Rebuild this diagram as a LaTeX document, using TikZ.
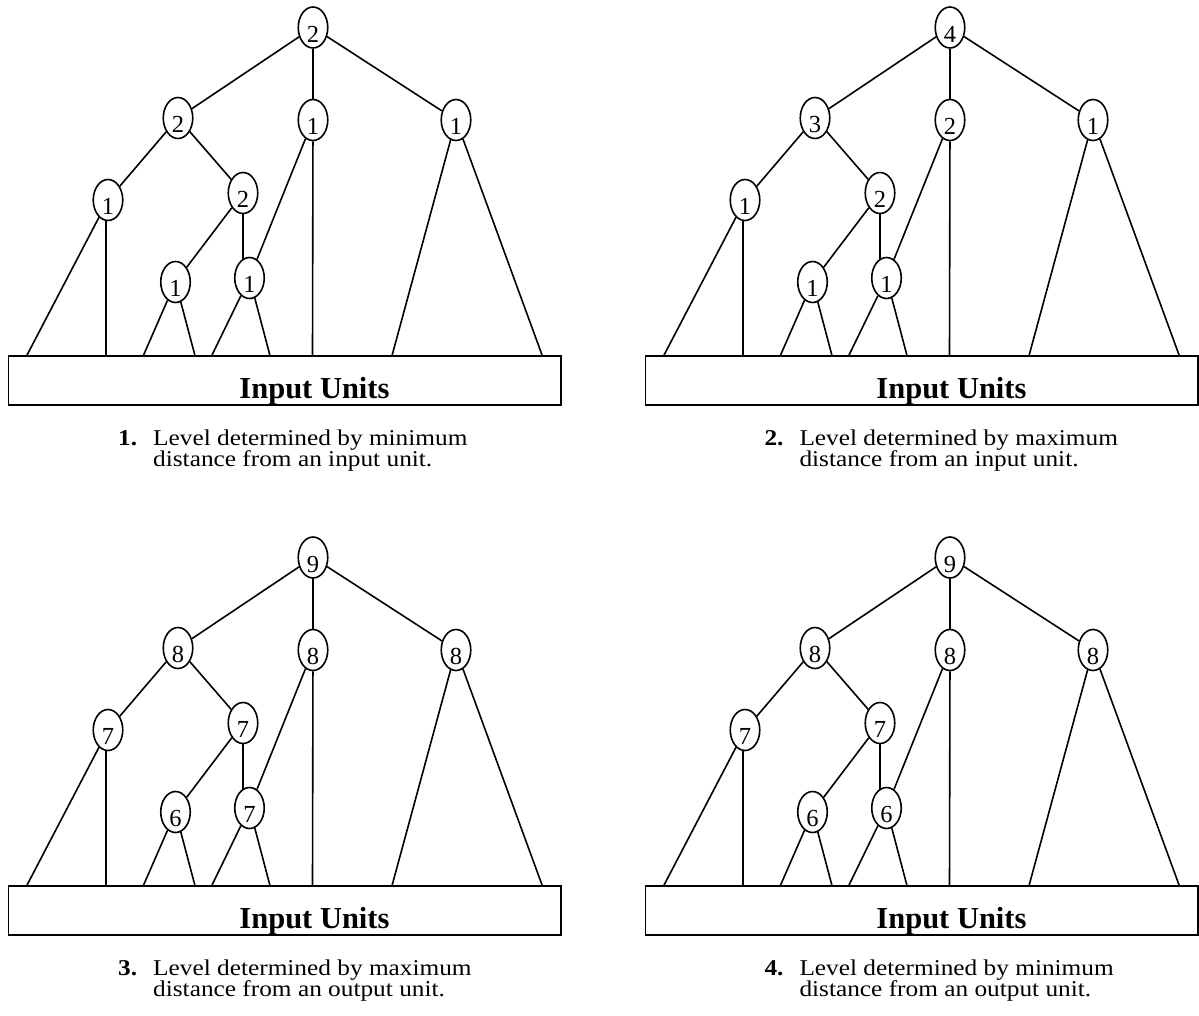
\documentclass[tikz,border=0pt]{standalone}
\usepackage{fontspec}
\setmainfont{Liberation Serif}
\newfontfamily\capfont[FakeStretch=1.12]{Liberation Serif}
\usetikzlibrary{shapes.geometric,backgrounds}
\tikzset{
  unit/.style={ellipse, draw, line width=1.6pt, fill=white, minimum width=29.5pt,
    minimum height=41pt, inner sep=0pt, text height=29pt, text depth=0pt,
    font=\fontsize{24.5}{28}\selectfont},
  edge/.style={line width=1.6pt},
  inbox/.style={draw, line width=1.6pt, minimum width=552.7pt, minimum height=49.3pt, inner sep=0pt},
  boxtext/.style={font=\fontsize{30.5}{34}\selectfont\bfseries, anchor=base, inner sep=0pt},
  capt/.style={font=\capfont\fontsize{22.6}{21.7}\selectfont, anchor=base west, inner sep=0pt},
}
\newcommand\pf{}
\newcommand\levtree[8]{%
  \node[unit] (\pf r) at (313,27.5) {#1};
  \node[unit] (\pf a) at (178,118) {#2};
  \node[unit] (\pf b) at (313,120) {#3};
  \node[unit] (\pf c) at (456,120) {#4};
  \node[unit] (\pf d) at (108,200) {#5};
  \node[unit] (\pf e) at (243,193) {#6};
  \node[unit] (\pf f) at (175.5,282) {#7};
  \node[unit] (\pf g) at (249.5,278) {#8};
  \node[inbox] (\pf box) at (284.65,380.35) {};
  \node[boxtext] (\pf txt) at (314.5,398) {Input Units};
  \coordinate (\pf p1) at (26.7,355.7);
  \coordinate (\pf p2) at (106,355.7);
  \coordinate (\pf p3) at (143.3,355.7);
  \coordinate (\pf p4) at (195,355.7);
  \coordinate (\pf p5) at (211.7,355.7);
  \coordinate (\pf p6) at (270,355.7);
  \coordinate (\pf p7) at (312.5,355.7);
  \coordinate (\pf p8) at (392,355.7);
  \coordinate (\pf p9) at (542.3,355.7);
  \begin{pgfonlayer}{background}
    \draw[edge] (\pf r) -- (\pf a);
    \draw[edge] (\pf r) -- (\pf b);
    \draw[edge] (\pf r) -- (\pf c);
    \draw[edge] (\pf a) -- (\pf d);
    \draw[edge] (\pf a) -- (\pf e);
    \draw[edge] (\pf e) -- (\pf f);
    \draw[edge] (\pf e.south) -- (\pf e.south |- \pf g.center);
    \draw[edge] (\pf g) -- (\pf b);
    \draw[edge] (\pf d) -- (\pf p1);
    \draw[edge] (\pf d.south -| \pf p2) -- (\pf p2);
    \draw[edge] (\pf f) -- (\pf p3);
    \draw[edge] (\pf f) -- (\pf p4);
    \draw[edge] (\pf g) -- (\pf p5);
    \draw[edge] (\pf g) -- (\pf p6);
    \draw[edge] (\pf b) -- (\pf p7);
    \draw[edge] (\pf c) -- (\pf p8);
    \draw[edge] (\pf c) -- (\pf p9);
  \end{pgfonlayer}
}
% caption: name, x, y (baseline of first line), number, line 1, line 2
\newcommand\capnodes[6]{%
  \node[capt] (#1a) at (#2,#3) {\makebox[35pt][l]{\textbf{#4}}#5};
  \node[capt] (#1b) at (#2+35,#3+21.7) {#6};
}
\begin{document}
\begin{tikzpicture}[x=1pt,y=-1pt]
  \useasboundingbox (0,0) rectangle (1199,1015);
  \renewcommand\pf{A}
  \levtree{2}{2}{1}{1}{1}{2}{1}{1}
  \begin{scope}[shift={(637,0)}]
    \renewcommand\pf{B}
    \levtree{4}{3}{2}{1}{1}{2}{1}{1}
  \end{scope}
  \begin{scope}[shift={(0,530)}]
    \renewcommand\pf{C}
    \levtree{9}{8}{8}{8}{7}{7}{6}{7}
  \end{scope}
  \begin{scope}[shift={(637,530)}]
    \renewcommand\pf{D}
    \levtree{9}{8}{8}{8}{7}{7}{6}{6}
  \end{scope}
  \capnodes{capA}{118}{445}{1.}{Level determined by minimum}{distance from an input unit.}
  \capnodes{capB}{764.3}{445}{2.}{Level determined by maximum}{distance from an input unit.}
  \capnodes{capC}{118}{975}{3.}{Level determined by maximum}{distance from an output unit.}
  \capnodes{capD}{764.3}{975}{4.}{Level determined by minimum}{distance from an output unit.}
\end{tikzpicture}
\end{document}
